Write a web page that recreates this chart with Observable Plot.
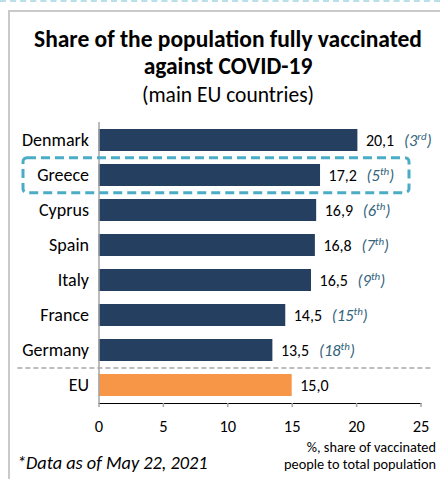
<!DOCTYPE html>
<html>
<head>
<meta charset="utf-8">
<script src="https://cdn.jsdelivr.net/npm/d3@7"></script>
<script src="https://cdn.jsdelivr.net/npm/@observablehq/plot@0.6"></script>
<style>
  html, body { margin: 0; padding: 0; background: #fff; }
  body { font-family: Calibri, Carlito, Lato, sans-serif; color: #000; }
  #wrap { position: relative; width: 440px; height: 479px; overflow: hidden; }
  #topline { position: absolute; top: 0; left: 0; width: 440px; border-top: 2px dashed #b9dfe9; }
  #frame { position: absolute; top: 10px; left: 8px; width: 460px; height: 500px; border: 2px solid #c9c9c9; box-sizing: border-box; }
  #title { position: absolute; top: 26px; left: 8px; width: 440px; text-align: center; font-weight: bold; font-size: 23.5px; line-height: 27px; }
  #subtitle { position: absolute; top: 83px; left: 8px; width: 440px; text-align: center; font-size: 21.5px; line-height: 24px; }
  #chart { position: absolute; top: 110px; left: 0; }
  #caption { position: absolute; left: 17px; top: 451px; font-style: italic; font-size: 18.3px; line-height: 24px; white-space: nowrap; }
  .note { position: absolute; right: 4px; text-align: right; font-size: 14.3px; line-height: 17.5px; height: 17.5px; white-space: nowrap; }
  #note1 { top: 438.5px; }
  #note2 { top: 456px; }
</style>
</head>
<body>
<div id="wrap">
  <div id="topline"></div>
  <div id="frame"></div>
  <div id="title">Share of the population fully vaccinated<br>against COVID-19</div>
  <div id="subtitle">(main EU countries)</div>
  <div id="chart"></div>
  <div id="caption">*Data as of May 22, 2021</div>
  <div class="note" id="note1">%, share of vaccinated</div>
  <div class="note" id="note2">people to total population</div>
</div>
<script>
const countries = ["Denmark", "Greece", "Cyprus", "Spain", "Italy", "France", "Germany", "EU"];
const values = [20.1, 17.2, 16.9, 16.8, 16.5, 14.5, 13.5, 15.0];
const ranks = ["3rd", "5th", "6th", "7th", "9th", "15th", "18th", ""];
const xTicks = [0, 5, 10, 15, 20, 25];
const highlighted = ["Greece"];
const average = ["EU"];

const data = countries.map((c, i) => ({country: c, value: values[i], rank: ranks[i]}));
const fmt = v => d3.format(".1f")(v).replace(".", ",");
const navy = "#243f60";
const orange = "#f79646";
const grid = "#a6a6a6";

const chart = Plot.plot({
  width: 440,
  height: 369,
  marginTop: 12,
  marginBottom: 76,
  marginLeft: 98.5,
  marginRight: 19.5,
  style: {fontFamily: "Calibri, Carlito, Lato, sans-serif", fontSize: "18px", color: "#000", background: "transparent", overflow: "visible"},
  x: {domain: [0, 25], ticks: xTicks, tickSize: 4, tickPadding: 13, label: null, line: true, tickFormat: d => String(d)},
  y: {domain: countries, paddingInner: 0.377, paddingOuter: 0.17, label: null, tickSize: 0, tickPadding: 10},
  marks: [
    Plot.barX(data, {y: "country", x: "value", fill: d => average.includes(d.country) ? orange : navy}),
    Plot.ruleX([0], {stroke: grid, strokeWidth: 1.5}),
    Plot.ruleY(average, {y: d => d, dy: -17.6, x1: -6.3, x2: 25.8, stroke: grid, strokeWidth: 1.5, strokeDasharray: "5,3"}),
    Plot.barX(highlighted, {y: d => d, x1: 0, x2: 25, insetLeft: -75.5, insetRight: 11.5, insetTop: -6.3, insetBottom: -6.7, fill: "none", stroke: "#4bacc6", strokeWidth: 3, strokeDasharray: "9,5", rx: 4}),
    Plot.text(data, {y: "country", x: "value", text: d => fmt(d.value), dx: 8, textAnchor: "start", fontSize: 16, fill: "#000"}),
    Plot.text(data.filter(d => d.rank), {y: "country", x: "value", text: "rank", dx: 46, textAnchor: "start", fontSize: 16.5, fontStyle: "italic", fill: "#33647c"})
  ]
});

// style x axis
d3.select(chart).selectAll('g[aria-label^="x-axis"] path, g[aria-label^="x-axis"] line').attr("stroke", grid).attr("stroke-width", 1.5);
d3.select(chart).selectAll('g[aria-label^="x-axis"] text').style("font-size", "16.5px");

// superscript ordinal suffixes
d3.select(chart).selectAll("text").each(function() {
  const t = d3.select(this);
  if (!t.selectAll("tspan").empty()) return;
  const s = t.text().trim();
  const m = s.match(/^(\d+)(st|nd|rd|th)$/);
  if (!m) return;
  t.text(null);
  t.append("tspan").text("(" + m[1]);
  t.append("tspan").attr("font-size", "11px").attr("dy", "-0.55em").text(m[2]);
  t.append("tspan").attr("dy", "0.4em").text(")");
});

document.getElementById("chart").appendChild(chart);
</script>
</body>
</html>
